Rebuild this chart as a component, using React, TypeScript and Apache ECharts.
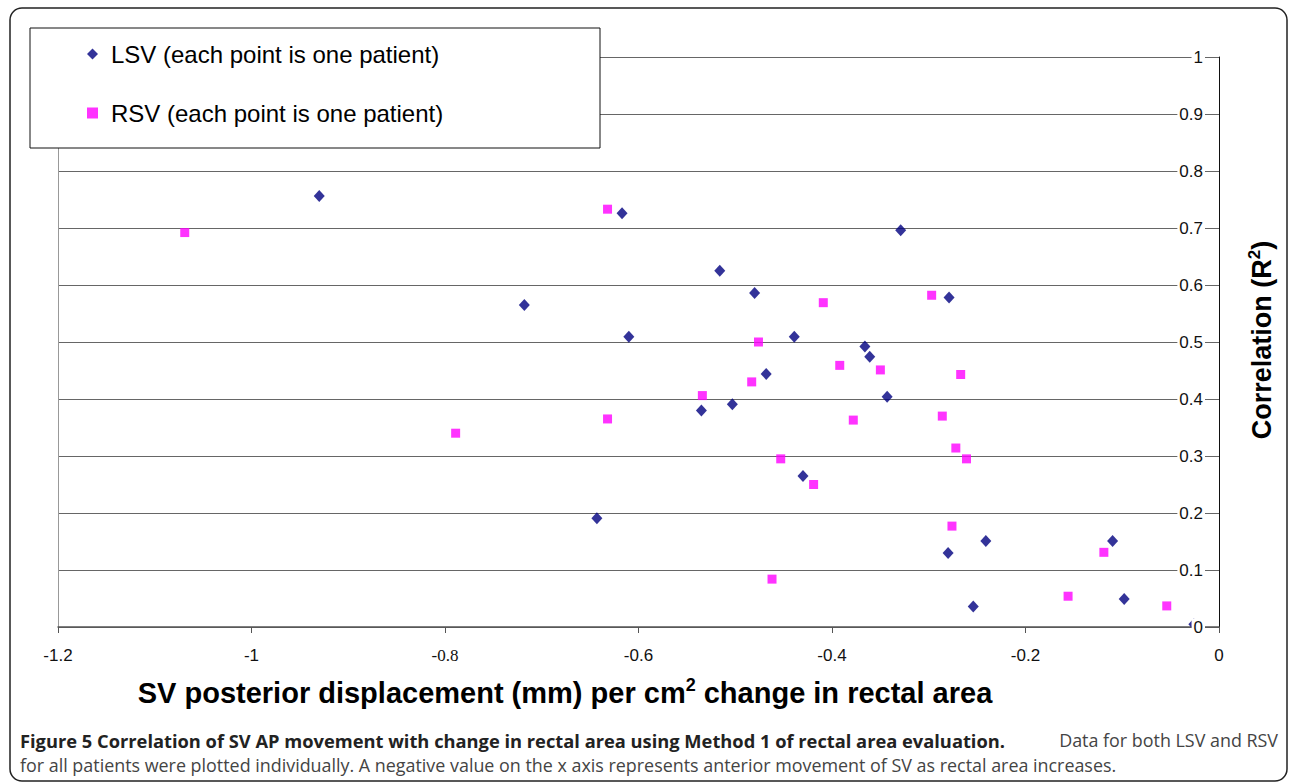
import React, { useEffect, useRef } from "react";
import * as echarts from "echarts";

const xTicks = [-1.2, -1, -0.8, -0.6, -0.4, -0.2, 0];
const yTicks = [0, 0.1, 0.2, 0.3, 0.4, 0.5, 0.6, 0.7, 0.8, 0.9, 1];

const lsvName = "LSV (each point is one patient)";
const rsvName = "RSV (each point is one patient)";

const lsvX = [-0.930, -0.617, -0.718, -0.516, -0.480, -0.610, -0.439, -0.329, -0.279, -0.366, -0.361, -0.468, -0.343, -0.535, -0.503, -0.430, -0.643, -0.280, -0.241, -0.254, -0.110, -0.098, -0.026];
const lsvY = [0.756, 0.726, 0.565, 0.625, 0.586, 0.509, 0.509, 0.696, 0.578, 0.492, 0.474, 0.444, 0.404, 0.380, 0.391, 0.265, 0.191, 0.130, 0.151, 0.036, 0.151, 0.049, 0.005];

const rsvX = [-1.069, -0.632, -0.789, -0.632, -0.534, -0.476, -0.483, -0.409, -0.297, -0.392, -0.350, -0.378, -0.267, -0.286, -0.272, -0.261, -0.453, -0.419, -0.276, -0.462, -0.156, -0.119, -0.054];
const rsvY = [0.692, 0.733, 0.340, 0.365, 0.406, 0.500, 0.430, 0.569, 0.582, 0.459, 0.451, 0.363, 0.443, 0.370, 0.314, 0.295, 0.295, 0.250, 0.177, 0.084, 0.054, 0.131, 0.037];

const xTitleParts = ["SV posterior displacement (mm) per cm", "2", " change in rectal area"];
const yTitleParts = ["Correlation (R", "2", ")"];
const captionBold = "Figure 5 Correlation of SV AP movement with change in rectal area using Method 1 of rectal area evaluation.";
const captionLine1 = "Data for both LSV and RSV";
const captionLine2 = "for all patients were plotted individually. A negative value on the x axis represents anterior movement of SV as rectal area increases.";

const SANS = "Liberation Sans";
const SERIF = "Liberation Serif";
const CAP = "Open Sans";

export default function App() {
  const ref = useRef<HTMLDivElement>(null);

  useEffect(() => {
    if (!ref.current) return;
    const chart = echarts.init(ref.current, undefined, { renderer: "svg" });
    const lsv = lsvX.map((x, i) => [x, lsvY[i]]);
    const rsv = rsvX.map((x, i) => [x, rsvY[i]]);

    const yBase = { type: "value", min: yTicks[0], max: yTicks[yTicks.length - 1], interval: 0.1 };

    chart.setOption({
      animation: false,
      backgroundColor: "#fff",
      grid: { left: 58, right: 71, top: 57, bottom: 157, containLabel: false },
      xAxis: {
        type: "value",
        min: xTicks[0],
        max: xTicks[xTicks.length - 1],
        interval: 0.2,
        axisLine: { show: true, onZero: false, lineStyle: { color: "#555", width: 1.5 } },
        axisTick: { show: true, length: 6, lineStyle: { color: "#555" } },
        splitLine: { show: false },
        axisLabel: {
          margin: 20,
          fontSize: 17,
          fontFamily: SANS,
          color: "#111",
          showMinLabel: true,
          showMaxLabel: true,
          formatter: (v: number) => {
            const r = Math.round(v * 10) / 10;
            const s = String(r);
            return Math.abs(r + 0.8) < 1e-6 ? "{s|" + s + "}" : s;
          },
          rich: { s: { fontFamily: SERIF, fontSize: 17, color: "#111" } },
        },
      },
      yAxis: [
        {
          ...yBase,
          position: "right",
          axisLine: { show: true, lineStyle: { color: "#111", width: 1 } },
          axisTick: { show: false },
          axisLabel: { show: false },
          splitLine: { show: true, lineStyle: { color: "#666", width: 1 } },
        },
        {
          ...yBase,
          position: "right",
          z: 6,
          axisLine: { show: false },
          axisTick: { show: false },
          splitLine: { show: false },
          axisLabel: {
            inside: true,
            margin: 14,
            fontSize: 17,
            fontFamily: SANS,
            color: "#111",
            backgroundColor: "#fff",
            padding: [0, 2, 0, 2],
            formatter: (v: number) => String(Math.round(v * 10) / 10),
          },
        },
        {
          ...yBase,
          position: "left",
          axisLine: { show: true, lineStyle: { color: "#999", width: 1 } },
          axisTick: { show: false },
          axisLabel: { show: false },
          splitLine: { show: false },
        },
      ],
      legend: {
        orient: "vertical",
        left: 82,
        top: 37,
        itemGap: 35,
        itemWidth: 11,
        itemHeight: 11,
        z: 8,
        data: [lsvName, rsvName],
        textStyle: { fontSize: 24, fontFamily: SANS, color: "#000", padding: [0, 0, 0, 8] },
      },
      series: [
        {
          name: lsvName,
          type: "scatter",
          yAxisIndex: 0,
          symbol: "diamond",
          symbolSize: [11, 12],
          itemStyle: { color: "#000080" },
          data: lsv,
          z: 3,
        },
        {
          name: rsvName,
          type: "scatter",
          yAxisIndex: 0,
          symbol: "rect",
          symbolSize: 9,
          itemStyle: { color: "#ff00ff" },
          data: rsv,
          z: 3,
        },
      ],
      graphic: [
        {
          type: "rect",
          z: 7,
          shape: { x: 30, y: 28, width: 570, height: 120 },
          style: { fill: "#fff", stroke: "#111", lineWidth: 1 },
        },
        {
          type: "rect",
          z: 20,
          shape: { x: 10, y: 8, width: 1277, height: 773, r: 12 },
          style: { fill: "none", stroke: "#222", lineWidth: 1.5 },
        },
        {
          type: "text",
          z: 10,
          x: 565,
          y: 693,
          style: {
            text: "{a|" + xTitleParts[0] + "}{s|" + xTitleParts[1] + "}{a|" + xTitleParts[2] + "}",
            align: "center",
            verticalAlign: "middle",
            rich: {
              a: { fontSize: 29, fontWeight: "bold", fontFamily: SANS, fill: "#000", lineHeight: 34 },
              s: { fontSize: 18, fontWeight: "bold", fontFamily: SANS, fill: "#000", lineHeight: 18, verticalAlign: "top" },
            },
          },
        },
        {
          type: "text",
          z: 10,
          x: 1262,
          y: 340,
          rotation: Math.PI / 2,
          style: {
            text: "{a|" + yTitleParts[0] + "}{s|" + yTitleParts[1] + "}{a|" + yTitleParts[2] + "}",
            align: "center",
            verticalAlign: "middle",
            rich: {
              a: { fontSize: 27, fontWeight: "bold", fontFamily: SANS, fill: "#000", lineHeight: 32 },
              s: { fontSize: 17, fontWeight: "bold", fontFamily: SANS, fill: "#000", lineHeight: 17, verticalAlign: "top" },
            },
          },
        },
        {
          type: "text",
          z: 10,
          x: 20,
          y: 740,
          style: {
            text: captionBold,
            align: "left",
            verticalAlign: "middle",
            fontSize: 18.3,
            fontWeight: "bold",
            fontFamily: CAP,
            fill: "#222",
          },
        },
        {
          type: "text",
          z: 10,
          x: 1278,
          y: 740,
          style: {
            text: captionLine1,
            align: "right",
            verticalAlign: "middle",
            fontSize: 17.9,
            fontFamily: CAP,
            fill: "#444",
          },
        },
        {
          type: "text",
          z: 10,
          x: 20,
          y: 765,
          style: {
            text: captionLine2,
            align: "left",
            verticalAlign: "middle",
            fontSize: 17.9,
            fontFamily: CAP,
            fill: "#444",
          },
        },
      ],
    });
    return () => chart.dispose();
  }, []);

  return (
    <div
      ref={ref}
      style={{ position: "absolute", left: 0, top: 0, width: 1290, height: 784, background: "#fff" }}
    />
  );
}
